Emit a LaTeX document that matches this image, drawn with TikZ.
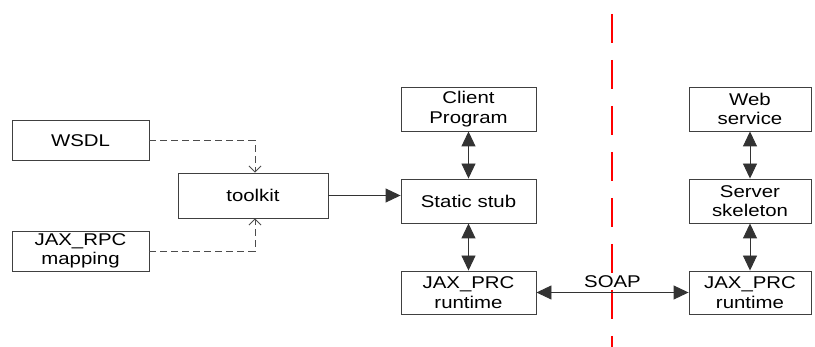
\documentclass[tikz,border=0pt]{standalone}
\usepackage{fontspec}
\setmainfont{Liberation Sans}[FakeStretch=1.2]
\usetikzlibrary{arrows.meta}
\begin{document}
\begin{tikzpicture}[x=1pt,y=-1pt,
  label text/.style={font=\fontsize{17}{19.5}\selectfont},
  box/.style={draw=black!75,line width=0.9pt,fill=white,inner sep=0pt,align=center,label text},
  leftbox/.style={box,minimum width=137pt,minimum height=40pt},
  midbox/.style={box,minimum width=135pt,minimum height=44pt},
  rightbox/.style={box,minimum width=122pt,minimum height=44pt},
  feed/.style={draw=black!70,line width=0.9pt,dash pattern=on 7pt off 4pt,
    -{Straight Barb[length=6pt,width=12pt,line width=0.9pt]}},
  flow/.style={draw=black!80,line width=0.9pt,-{Triangle[length=15pt,width=14pt]}},
  duplex/.style={draw=black!80,line width=0.9pt,{Triangle[length=15pt,width=14pt]}-{Triangle[length=15pt,width=14pt]}},
  border/.style={draw=red,line width=1.6pt,dash pattern=on 29pt off 17pt}
]
\useasboundingbox (0,0) rectangle (815,347);

% network boundary
\coordinate (top) at (612,14);
\coordinate (bottom) at (612,347);
\draw[border] (top) -- (bottom);

% code generation inputs
\node[leftbox] (wsdl) at (80.5,140.5) {WSDL};
\node[leftbox] (map) at (80.5,251) {JAX\_RPC\\mapping};
\node[box,minimum width=150pt,minimum height=45pt] (tool) at (253,195.5) {toolkit};

% client side
\node[midbox] (client) at (468.5,109) {Client\\Program};
\node[midbox] (stub) at (468.5,201) {Static stub};
\node[midbox,minimum height=43pt] (rtc) at (468.5,292.5) {JAX\_PRC\\runtime};

% server side
\node[rightbox] (web) at (750,109) {Web\\service};
\node[rightbox] (skel) at (750,201) {Server\\skeleton};
\node[rightbox,minimum height=43pt] (rts) at (750,292.5) {JAX\_PRC\\runtime};

% connectors
\draw[feed] (wsdl.east) -| ([xshift=2pt]tool.north);
\draw[feed] (map.east) -| ([xshift=2pt]tool.south);
\draw[flow] (tool.east) -- (tool.east -| stub.west);
\draw[duplex] (client) -- (stub);
\draw[duplex] (stub) -- (rtc);
\draw[duplex] (web) -- (skel);
\draw[duplex] (skel) -- (rts);
\draw[duplex] (rtc) -- node[above=1pt,label text] {SOAP} (rts);
\end{tikzpicture}
\end{document}
